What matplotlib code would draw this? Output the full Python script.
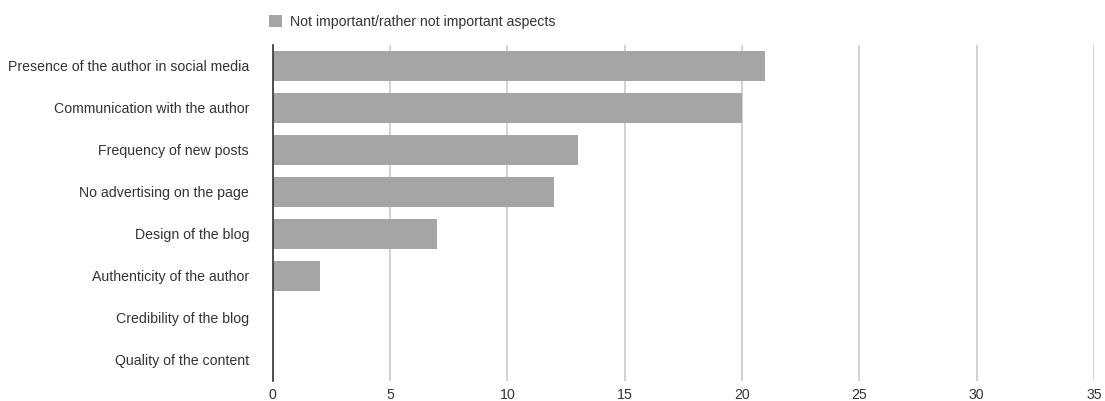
import matplotlib.pyplot as plt

plt.rcParams["font.family"] = ["Liberation Sans", "DejaVu Sans"]

categories = [
    "Presence of the author in social media",
    "Communication with the author",
    "Frequency of new posts",
    "No advertising on the page",
    "Design of the blog",
    "Authenticity of the author",
    "Credibility of the blog",
    "Quality of the content",
]
values = [21, 20, 13, 12, 7, 2, 0, 0]
series_name = "Not important/rather not important aspects"
xticks = [0, 5, 10, 15, 20, 25, 30, 35]

fig = plt.figure(figsize=(11.05, 4.01), dpi=100)
ax = fig.add_axes([272.7 / 1105, 1 - 380.7 / 401, (1094 - 272.7) / 1105, (380.7 - 45) / 401])

ypos = list(range(len(categories)))
ax.barh(ypos, values, height=0.72, color="#a5a5a5", label=series_name, zorder=2)
ax.set_ylim(len(categories) - 0.5, -0.5)
ax.set_xlim(0, 35)
ax.set_yticks(ypos)
ax.set_yticklabels(categories)
ax.set_xticks(xticks)
ax.tick_params(axis="both", length=0, labelsize=10.2, colors="#333333")
ax.tick_params(axis="y", pad=17)
ax.tick_params(axis="x", pad=5)

ax.grid(axis="x", color="#cccccc", linewidth=1.2, zorder=1)
for side in ["top", "right", "bottom"]:
    ax.spines[side].set_visible(False)
ax.spines["left"].set_color("#333333")
ax.spines["left"].set_linewidth(1.2)
ax.spines["left"].set_zorder(3)

ax.legend(loc="lower left", bbox_to_anchor=(-0.011, 1.03), frameon=False,
          fontsize=10.2, handlelength=0.9, handleheight=0.9, handletextpad=0.55,
          borderaxespad=0, labelcolor="#333333")

fig.savefig("out.png", dpi=100)
